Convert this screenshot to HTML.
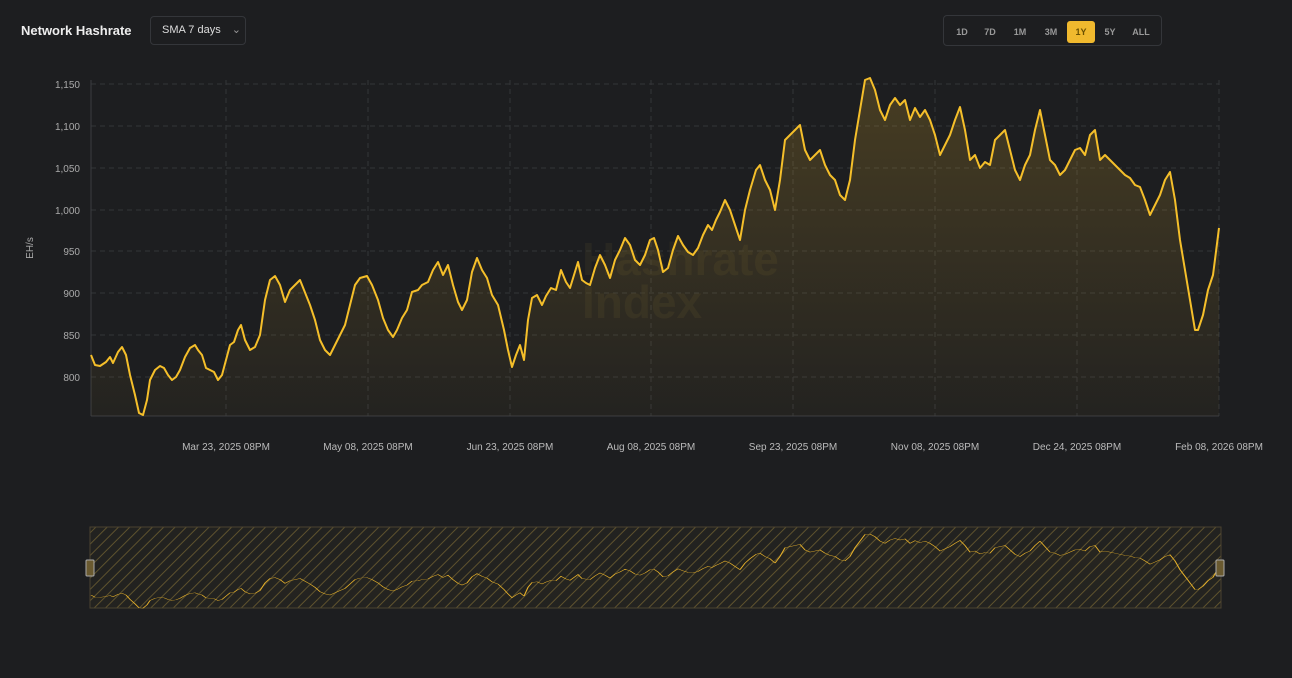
<!DOCTYPE html><html><head><style>
body{margin:0;background:#1d1e20;width:1292px;height:678px;overflow:hidden;font-family:"Liberation Sans",sans-serif}
.t{position:absolute;left:21px;top:23px;color:#eee;font-weight:bold;font-size:13px}
.sel{position:absolute;left:150px;top:16px;width:96px;height:29px;border:1px solid #34363a;border-radius:4px;box-sizing:border-box;color:#ddd;font-size:11px;line-height:27px;padding-left:11px}
.rng{position:absolute;left:943px;top:15px;width:219px;height:31px;border:1px solid #34363a;border-radius:4px;box-sizing:border-box}
.rng span{position:absolute;top:5px;height:22px;line-height:22px;font-size:9px;color:#999;font-weight:bold;text-align:center}
</style></head><body>
<div class="t">Network Hashrate</div>
<div class="sel">SMA 7 days <span style="margin-left:8px;color:#999">⌄</span></div>
<div class="rng">
<span style="left:8px;width:20px">1D</span><span style="left:36px;width:20px">7D</span><span style="left:66px;width:20px">1M</span><span style="left:97px;width:20px">3M</span>
<span style="left:123px;width:28px;background:#f0b92e;color:#6a4f00;border-radius:3px">1Y</span>
<span style="left:156px;width:20px">5Y</span><span style="left:185px;width:24px">ALL</span></div>
<svg width="1292" height="678" style="position:absolute;left:0;top:0">
<defs>
<linearGradient id="g" x1="0" y1="0" x2="0" y2="1"><stop offset="0" stop-color="#f0b92e" stop-opacity="0.2"/><stop offset="1" stop-color="#f0b92e" stop-opacity="0.03"/></linearGradient>
<pattern id="h" width="8" height="8" patternUnits="userSpaceOnUse" patternTransform="rotate(45)"><rect width="8" height="8" fill="#222220"/><line x1="0" y1="0" x2="0" y2="8" stroke="#5e522e" stroke-width="2"/></pattern>
<path id="p" d="M91,355 L95,365 100,366 106,362 110,357 113,363 118,352 122,347 126,355 130,375 135,395 139,413 143,415 147,400 150,380 155,370 160,366 164,368 168,375 172,380 176,377 180,370 185,357 190,348 195,345 198,350 202,355 206,368 210,370 214,372 218,380 222,375 226,360 230,345 234,342 238,330 241,325 245,340 250,350 255,347 260,335 265,300 270,280 275,276 280,285 285,302 290,290 295,285 300,280 304,290 310,305 315,320 320,340 325,350 330,355 335,345 340,335 345,325 350,305 355,285 360,278 367,276 372,285 378,300 383,318 388,330 393,337 397,330 402,318 407,310 412,292 418,290 422,285 428,282 433,270 438,262 443,275 448,265 453,285 458,302 462,310 467,300 472,272 477,258 482,270 487,278 492,295 498,305 504,330 508,350 512,367 516,355 520,345 524,360 528,320 532,298 537,295 542,305 546,296 551,288 556,290 561,270 566,282 570,288 574,275 578,262 582,280 586,283 590,285 595,268 600,255 605,265 610,278 615,260 620,250 625,238 630,245 635,260 640,265 645,255 650,240 654,238 658,250 663,272 668,268 673,250 678,236 683,245 688,252 693,255 698,248 703,235 708,225 712,230 716,220 720,212 725,200 730,210 735,225 740,240 745,210 750,190 756,170 760,165 765,180 770,190 775,210 780,180 785,140 790,135 795,130 800,125 805,150 810,160 815,155 820,150 825,165 830,175 835,180 840,195 845,200 850,180 855,140 860,110 865,80 870,78 875,90 880,110 885,120 890,105 895,98 900,105 905,100 910,120 915,108 920,117 925,110 930,120 935,135 940,155 945,145 950,135 955,120 960,107 965,130 970,160 975,155 980,168 985,162 990,165 995,140 1000,135 1005,130 1010,150 1015,170 1020,180 1025,165 1030,155 1035,130 1040,110 1045,135 1050,160 1055,165 1060,175 1065,170 1070,160 1075,150 1080,148 1085,155 1090,135 1095,130 1100,160 1105,155 1110,160 1115,165 1120,170 1125,175 1130,178 1135,185 1140,187 1145,200 1150,215 1155,205 1160,195 1165,180 1170,172 1175,200 1180,240 1185,270 1190,300 1195,330 1198,330 1203,315 1208,290 1213,275 1219,228"/>
</defs>
<g stroke="#333538" stroke-dasharray="5,4" stroke-width="1">
<line x1="91" x2="1219" y1="84" y2="84"/><line x1="91" x2="1219" y1="126" y2="126"/><line x1="91" x2="1219" y1="168" y2="168"/><line x1="91" x2="1219" y1="210" y2="210"/><line x1="91" x2="1219" y1="251" y2="251"/><line x1="91" x2="1219" y1="293" y2="293"/><line x1="91" x2="1219" y1="335" y2="335"/><line x1="91" x2="1219" y1="377" y2="377"/>
<line x1="226" x2="226" y1="80" y2="416"/><line x1="368" x2="368" y1="80" y2="416"/><line x1="510" x2="510" y1="80" y2="416"/><line x1="651" x2="651" y1="80" y2="416"/><line x1="793" x2="793" y1="80" y2="416"/><line x1="935" x2="935" y1="80" y2="416"/><line x1="1077" x2="1077" y1="80" y2="416"/><line x1="1219" x2="1219" y1="80" y2="416"/>
</g>
<line x1="91" x2="91" y1="80" y2="416" stroke="#3a3c40"/>
<line x1="91" x2="1219" y1="416" y2="416" stroke="#3a3c40"/>
<g fill="#aaa" font-size="10" text-anchor="end"><text x="80" y="88">1,150</text><text x="80" y="130">1,100</text><text x="80" y="172">1,050</text><text x="80" y="214">1,000</text><text x="80" y="255">950</text><text x="80" y="297">900</text><text x="80" y="339">850</text><text x="80" y="381">800</text></g>
<text x="33" y="248" fill="#aaa" font-size="10" text-anchor="middle" transform="rotate(-90 33 248)">EH/s</text>
<g fill="#bbb" font-size="10" text-anchor="middle"><text x="226" y="450">Mar 23, 2025 08PM</text><text x="368" y="450">May 08, 2025 08PM</text><text x="510" y="450">Jun 23, 2025 08PM</text><text x="651" y="450">Aug 08, 2025 08PM</text><text x="793" y="450">Sep 23, 2025 08PM</text><text x="935" y="450">Nov 08, 2025 08PM</text><text x="1077" y="450">Dec 24, 2025 08PM</text><text x="1219" y="450">Feb 08, 2026 08PM</text></g>
<g fill="#3a3526" opacity="0.4" font-weight="bold" font-size="46"><text x="582" y="275">Hashrate</text><text x="582" y="318">Index</text></g>
<path d="M91,355 L95,365 100,366 106,362 110,357 113,363 118,352 122,347 126,355 130,375 135,395 139,413 143,415 147,400 150,380 155,370 160,366 164,368 168,375 172,380 176,377 180,370 185,357 190,348 195,345 198,350 202,355 206,368 210,370 214,372 218,380 222,375 226,360 230,345 234,342 238,330 241,325 245,340 250,350 255,347 260,335 265,300 270,280 275,276 280,285 285,302 290,290 295,285 300,280 304,290 310,305 315,320 320,340 325,350 330,355 335,345 340,335 345,325 350,305 355,285 360,278 367,276 372,285 378,300 383,318 388,330 393,337 397,330 402,318 407,310 412,292 418,290 422,285 428,282 433,270 438,262 443,275 448,265 453,285 458,302 462,310 467,300 472,272 477,258 482,270 487,278 492,295 498,305 504,330 508,350 512,367 516,355 520,345 524,360 528,320 532,298 537,295 542,305 546,296 551,288 556,290 561,270 566,282 570,288 574,275 578,262 582,280 586,283 590,285 595,268 600,255 605,265 610,278 615,260 620,250 625,238 630,245 635,260 640,265 645,255 650,240 654,238 658,250 663,272 668,268 673,250 678,236 683,245 688,252 693,255 698,248 703,235 708,225 712,230 716,220 720,212 725,200 730,210 735,225 740,240 745,210 750,190 756,170 760,165 765,180 770,190 775,210 780,180 785,140 790,135 795,130 800,125 805,150 810,160 815,155 820,150 825,165 830,175 835,180 840,195 845,200 850,180 855,140 860,110 865,80 870,78 875,90 880,110 885,120 890,105 895,98 900,105 905,100 910,120 915,108 920,117 925,110 930,120 935,135 940,155 945,145 950,135 955,120 960,107 965,130 970,160 975,155 980,168 985,162 990,165 995,140 1000,135 1005,130 1010,150 1015,170 1020,180 1025,165 1030,155 1035,130 1040,110 1045,135 1050,160 1055,165 1060,175 1065,170 1070,160 1075,150 1080,148 1085,155 1090,135 1095,130 1100,160 1105,155 1110,160 1115,165 1120,170 1125,175 1130,178 1135,185 1140,187 1145,200 1150,215 1155,205 1160,195 1165,180 1170,172 1175,200 1180,240 1185,270 1190,300 1195,330 1198,330 1203,315 1208,290 1213,275 1219,228 L1219,416 L91,416Z" id="area" fill="url(#g)"/>
<use href="#p" fill="none" stroke="#f5bf2a" stroke-width="2" stroke-linejoin="round"/>
<rect x="90" y="527" width="1131" height="81" fill="url(#h)" stroke="#4a4330"/>
<g transform="translate(0,516.9) scale(1,0.22)">
<use href="#area" fill="#f0b92e" fill-opacity="0.12"/>
<use href="#p" fill="none" stroke="#e8b22a" stroke-width="1.2" vector-effect="non-scaling-stroke"/>
</g>
<rect x="86" y="560" width="8" height="16" fill="#6a5a30" stroke="#aaa" rx="1"/>
<rect x="1216" y="560" width="8" height="16" fill="#6a5a30" stroke="#aaa" rx="1"/>
</svg>
</body></html>
